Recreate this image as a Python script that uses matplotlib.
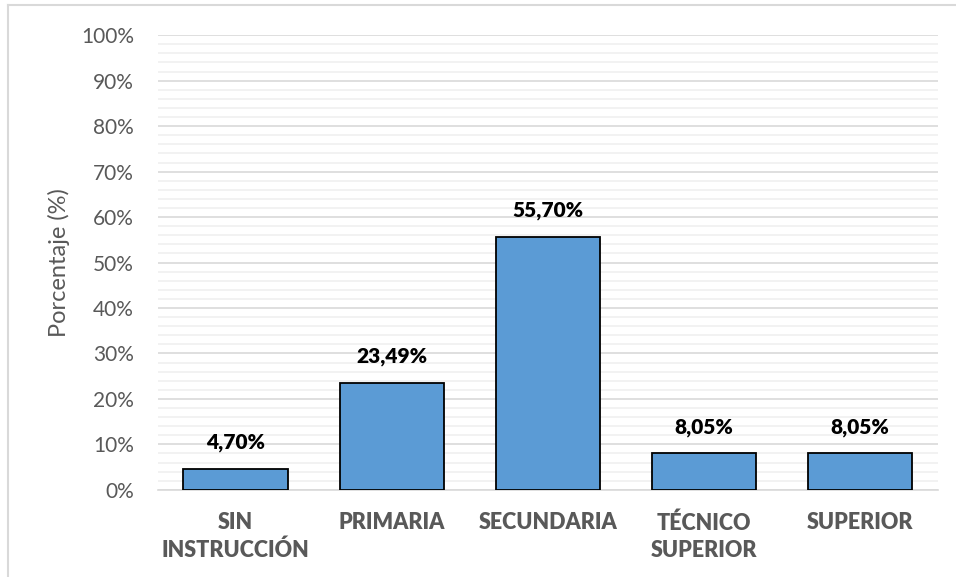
import matplotlib.pyplot as plt
from matplotlib.ticker import MultipleLocator, PercentFormatter
from matplotlib.lines import Line2D

categorias = ['SIN\nINSTRUCCIÓN', 'PRIMARIA', 'SECUNDARIA', 'TÉCNICO\nSUPERIOR', 'SUPERIOR']
porcentajes = [4.70, 23.49, 55.70, 8.05, 8.05]
etiquetas = ['4,70%', '23,49%', '55,70%', '8,05%', '8,05%']

plt.rcParams['font.family'] = ['Lato', 'DejaVu Sans']

fig = plt.figure(figsize=(9.56, 5.77), dpi=100)
ax = fig.add_axes([0.165, 0.151, 0.816, 0.788])

x = range(len(categorias))
bars = ax.bar(x, porcentajes, width=0.67, color='#5B9BD5', edgecolor='black',
              linewidth=1.3, zorder=3)

for b, t in zip(bars, etiquetas):
    ax.annotate(t, (b.get_x() + b.get_width() / 2, b.get_height()),
                xytext=(0, 12), textcoords='offset points', ha='center', va='bottom',
                fontsize=15, fontweight='heavy', color='black')

ax.set_xlim(-0.5, len(categorias) - 0.5)
ax.set_ylim(0, 100)
ax.yaxis.set_major_locator(MultipleLocator(10))
ax.yaxis.set_minor_locator(MultipleLocator(2))
ax.yaxis.set_major_formatter(PercentFormatter(decimals=0))
ax.grid(axis='y', which='major', color='#d9d9d9', linewidth=1.2, zorder=0)
ax.grid(axis='y', which='minor', color='#f0f0f0', linewidth=1.2, zorder=0)

ax.set_xticks(list(x))
ax.set_xticklabels(categorias, fontsize=15.5, fontweight='heavy', color='#595959')
ax.tick_params(axis='x', length=0, pad=16)
ax.tick_params(axis='y', which='both', length=0, labelsize=15, labelcolor='#595959', pad=17)
for lbl in ax.get_xticklabels():
    lbl.set_linespacing(1.35)

ax.set_ylabel('Porcentaje (%)', fontsize=17, color='#595959', labelpad=8)

for s in ['top', 'right', 'left']:
    ax.spines[s].set_visible(False)
ax.spines['bottom'].set_color('#d9d9d9')
ax.spines['bottom'].set_linewidth(1.2)

# marco del gráfico
fig.add_artist(Line2D([8 / 956, 1], [1 - 5 / 577, 1 - 5 / 577], color='#d9d9d9', linewidth=1.5,
                      transform=fig.transFigure))
fig.add_artist(Line2D([8 / 956, 8 / 956], [0, 1 - 5 / 577], color='#d9d9d9', linewidth=1.5,
                      transform=fig.transFigure))

fig.savefig('out.png', dpi=100)
